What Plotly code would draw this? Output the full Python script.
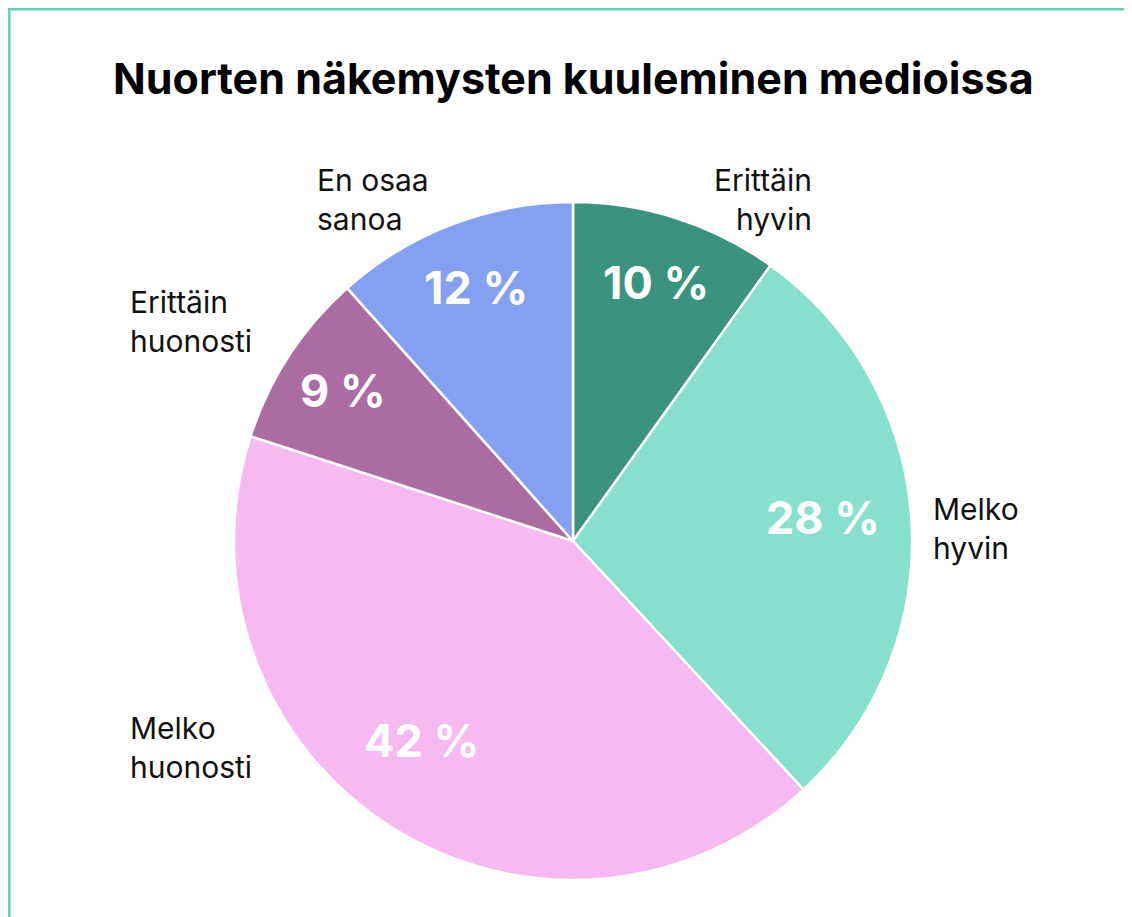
import math
import plotly.graph_objects as go

# ---- data ----
categories = ["Erittäin hyvin", "Melko hyvin", "Melko huonosti", "Erittäin huonosti", "En osaa sanoa"]
label_lines = ["Erittäin<br>hyvin", "Melko<br>hyvin", "Melko<br>huonosti", "Erittäin<br>huonosti", "En osaa<br>sanoa"]
values = [9.9, 28.2, 41.9, 8.4, 11.6]
percent_text = ["10 %", "28 %", "42 %", "9 %", "12 %"]
colors = ["#3a937f", "#87e0cd", "#f7b9f1", "#ab6ca4", "#84a0f2"]
title = "Nuorten näkemysten kuuleminen medioissa"

# ---- geometry (figure pixels) ----
OFF = 8  # default page body margin
W, H = 1132 - OFF, 917 - OFF
cx, cy, R = 573 - OFF, 541 - OFF, 339

def px(x):
    return x / W

def py(y):
    return 1 - y / H

FONT = "Inter, 'Open Sans', sans-serif"

fig = go.Figure()
fig.add_trace(go.Pie(
    labels=categories,
    values=values,
    sort=False,
    direction="clockwise",
    rotation=0,
    marker=dict(colors=colors, line=dict(color="white", width=2.5)),
    textinfo="none",
    hoverinfo="label+percent",
    showlegend=False,
    domain=dict(x=[px(cx - R), px(cx + R)], y=[py(cy + R), py(cy - R)]),
))

annotations = []
# percentage labels, placed near each slice's mid-angle
total = sum(values)
cum = 0.0
rfrac = [0.80, 0.74, 0.74, 0.81, 0.80]
ang_adj = [0.0, -1.7, 4.6, 0.0, 0.0]
for v, t, f, a in zip(values, percent_text, rfrac, ang_adj):
    mid = (cum + v / 2) / total * 2 * math.pi + math.radians(a)
    cum += v
    x = cx + R * f * math.sin(mid)
    y = cy - R * f * math.cos(mid)
    annotations.append(dict(x=px(x), y=py(y), xref="paper", yref="paper", text=t,
                            showarrow=False, xanchor="center", yanchor="middle",
                            font=dict(family=FONT, size=45, color="white", weight="bold")))

# category labels outside the pie
label_pos = [  # (x, y_mid, xanchor, align) in page px
    (814, 199, "right", "right"),
    (931, 528, "left", "left"),
    (128, 747, "left", "left"),
    (128, 321, "left", "left"),
    (315, 199, "left", "left"),
]
for txt, (x, y, xa, al) in zip(label_lines, label_pos):
    annotations.append(dict(x=px(x - OFF), y=py(y - OFF), xref="paper", yref="paper", text=txt,
                            showarrow=False, xanchor=xa, yanchor="middle", align=al,
                            font=dict(family=FONT, size=30, color="#111111")))

annotations.append(dict(x=px(573 - OFF), y=py(78 - OFF), xref="paper", yref="paper", text="<b>" + title + "</b>",
                        showarrow=False, xanchor="center", yanchor="middle",
                        font=dict(family=FONT, size=43, color="#000000")))

fig.update_layout(
    width=W, height=H,
    margin=dict(l=0, r=0, t=0, b=0),
    paper_bgcolor="white",
    plot_bgcolor="white",
    annotations=annotations,
    shapes=[dict(type="rect", xref="paper", yref="paper",
                 x0=px(1), x1=1.2, y0=-0.2, y1=py(1),
                 line=dict(color="#55d6bb", width=3), fillcolor="rgba(0,0,0,0)")],
)

fig.write_html("out.html")
